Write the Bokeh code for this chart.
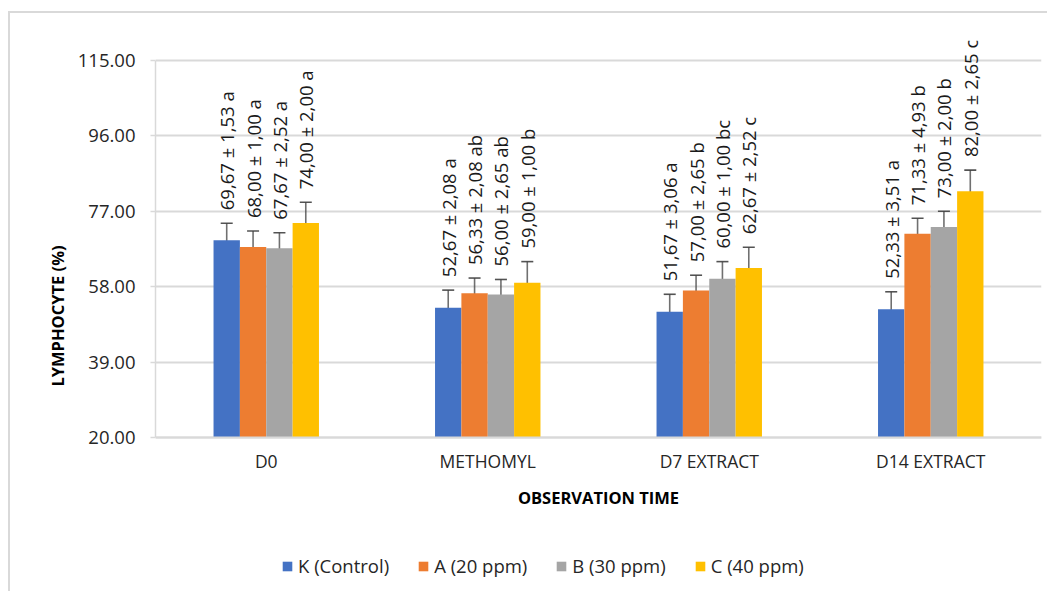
import math
from bokeh.plotting import figure
from bokeh.models import (ColumnDataSource, Range1d, FixedTicker, LabelSet, Legend,
                          LegendItem, Whisker, TeeHead, Title)
from bokeh.core.properties import value
from bokeh.embed import file_html
from bokeh.resources import INLINE

# ---------------- data ----------------
categories = ["D0", "METHOMYL", "D7 EXTRACT", "D14 EXTRACT"]
series_names = ["K (Control)", "A (20 ppm)", "B (30 ppm)", "C (40 ppm)"]
colors = ["#4472C4", "#ED7D31", "#A5A5A5", "#FFC000"]

mean_K = [69.67, 52.67, 51.67, 52.33]
mean_A = [68.00, 56.33, 57.00, 71.33]
mean_B = [67.67, 56.00, 60.00, 73.00]
mean_C = [74.00, 59.00, 62.67, 82.00]

sd_K = [1.53, 2.08, 3.06, 3.51]
sd_A = [1.00, 2.08, 2.65, 4.93]
sd_B = [2.52, 2.65, 1.00, 2.00]
sd_C = [2.00, 1.00, 2.52, 2.65]

letters_K = ["a", "a", "a", "a"]
letters_A = ["a", "ab", "b", "b"]
letters_B = ["a", "ab", "bc", "b"]
letters_C = ["a", "b", "c", "c"]

# error bar half-lengths as drawn in the chart
err_K = [4.30, 4.45, 4.40, 4.37]
err_A = [4.00, 3.83, 3.87, 3.90]
err_B = [3.90, 3.80, 4.30, 4.00]
err_C = [5.25, 5.30, 5.25, 5.35]

y_ticks = [20, 39, 58, 77, 96, 115]

means = [mean_K, mean_A, mean_B, mean_C]
sds = [sd_K, sd_A, sd_B, sd_C]
letters = [letters_K, letters_A, letters_B, letters_C]
errs = [err_K, err_A, err_B, err_C]

FONT = "Open Sans"
bar_w = 0.119

# the frame reaches down to the legend; the value axis starts at y_ticks[0]
p = figure(width=1039, height=580,
           x_range=Range1d(0, len(categories)), y_range=Range1d(-18.8, 120),
           output_backend="svg", toolbar_location=None,
           min_border_left=145, min_border_right=8, min_border_top=27,
           min_border_bottom=2)
p.styles = {"border-left": "2px solid #d9d9d9", "border-top": "2px solid #d9d9d9",
            "margin-top": "11px", "margin-left": "8px"}
p.outline_line_color = None
p.background_fill_color = "white"
p.border_fill_color = "white"

items = []
for j in range(4):
    xs = [i + 0.5 + (j - 1.5) * bar_w for i in range(len(categories))]
    labels = [("%.2f ± %.2f %s" % (m, s, l)).replace(".", ",")
              for m, s, l in zip(means[j], sds[j], letters[j])]
    src = ColumnDataSource(dict(
        x=xs, top=means[j],
        upper=[m + e for m, e in zip(means[j], errs[j])],
        lower=[m - e for m, e in zip(means[j], errs[j])],
        label=labels))
    r = p.vbar(x="x", top="top", bottom=y_ticks[0], width=bar_w, source=src,
               fill_color=colors[j], line_color=None)
    items.append(LegendItem(label=series_names[j], renderers=[r]))

    w = Whisker(base="x", upper="upper", lower="lower", source=src,
                line_color="#404040", line_alpha=0.75, line_width=1.6,
                upper_head=TeeHead(size=12, line_color="#404040", line_alpha=0.9, line_width=1.6),
                lower_head=TeeHead(size=12, line_color="#404040", line_alpha=0.9, line_width=1.6))
    p.add_layout(w)

    ls = LabelSet(x="x", y="upper", text="label", source=src, angle=math.pi / 2,
                  text_align="left", text_baseline="middle", y_offset=13,
                  text_font=value(FONT), text_font_size="18.5px", text_color="#1a1a1a")
    p.add_layout(ls)

# x axis sits on the value-axis baseline
p.xaxis.fixed_location = y_ticks[0]
p.xaxis.ticker = FixedTicker(ticks=[i + 0.5 for i in range(len(categories))])
p.xaxis.major_label_overrides = {i + 0.5: c for i, c in enumerate(categories)}
p.xaxis.axis_line_color = "#d9d9d9"
p.xaxis.axis_line_width = 2
p.xaxis.major_tick_line_color = None
p.xaxis.minor_tick_line_color = None
p.xaxis.major_tick_out = 0
p.xaxis.major_label_standoff = 12
p.xaxis.major_label_text_font = FONT
p.xaxis.major_label_text_font_size = "17.5px"
p.xaxis.major_label_text_color = "#262626"
p.xaxis.axis_label = "OBSERVATION TIME"
p.xaxis.axis_label_text_font = FONT
p.xaxis.axis_label_text_font_style = "bold"
p.xaxis.axis_label_text_font_size = "16.5px"
p.xaxis.axis_label_text_color = "#000000"
p.xaxis.axis_label_standoff = 9

p.yaxis.ticker = FixedTicker(ticks=y_ticks)
p.yaxis.major_label_overrides = {t: "%.2f" % t for t in y_ticks}
p.yaxis.bounds = (y_ticks[0], y_ticks[-1])
p.yaxis.axis_line_color = "#d9d9d9"
p.yaxis.axis_line_width = 1.5
p.yaxis.major_tick_line_color = "#d9d9d9"
p.yaxis.major_tick_line_width = 1.5
p.yaxis.major_tick_out = 5
p.yaxis.major_tick_in = 0
p.yaxis.minor_tick_line_color = None
p.yaxis.major_label_standoff = 15
p.yaxis.major_label_text_font = FONT
p.yaxis.major_label_text_font_size = "18.5px"
p.yaxis.major_label_text_color = "#262626"

ytitle = Title(text="LYMPHOCYTE (%)", align="center", offset=77, standoff=11,
               text_font=FONT, text_font_style="bold", text_font_size="16.5px",
               text_color="#000000")
p.add_layout(ytitle, "left")

p.xgrid.grid_line_color = None
p.ygrid.grid_line_color = "#d9d9d9"
p.ygrid.grid_line_width = 2

legend = Legend(items=items, orientation="horizontal", location=(126, 13),
                glyph_width=12, glyph_height=12, label_standoff=5, spacing=28,
                padding=0, margin=0, border_line_color=None, background_fill_alpha=0,
                label_text_font=FONT, label_text_font_size="18.5px",
                label_text_color="#262626")
p.add_layout(legend, "center")

open("out.html", "w").write(file_html(p, INLINE))
